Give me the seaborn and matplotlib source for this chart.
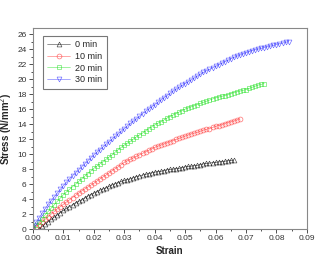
import matplotlib
matplotlib.use("Agg")
import matplotlib.pyplot as plt
import seaborn as sns
import pandas as pd
from matplotlib.ticker import MultipleLocator

# strain grid (step 0.001)
strain = [0.000, 0.001, 0.002, 0.003, 0.004, 0.005, 0.006, 0.007, 0.008, 0.009,
          0.010, 0.011, 0.012, 0.013, 0.014, 0.015, 0.016, 0.017, 0.018, 0.019,
          0.020, 0.021, 0.022, 0.023, 0.024, 0.025, 0.026, 0.027, 0.028, 0.029,
          0.030, 0.031, 0.032, 0.033, 0.034, 0.035, 0.036, 0.037, 0.038, 0.039,
          0.040, 0.041, 0.042, 0.043, 0.044, 0.045, 0.046, 0.047, 0.048, 0.049,
          0.050, 0.051, 0.052, 0.053, 0.054, 0.055, 0.056, 0.057, 0.058, 0.059,
          0.060, 0.061, 0.062, 0.063, 0.064, 0.065, 0.066, 0.067, 0.068, 0.069,
          0.070, 0.071, 0.072, 0.073, 0.074, 0.075, 0.076, 0.077, 0.078, 0.079,
          0.080, 0.081, 0.082, 0.083, 0.084]

labels = ['0 min', '10 min', '20 min', '30 min']

# 0 min starts at strain 0.002
stress_0 = [0.0, 0.35, 0.7, 1.0, 1.3, 1.6, 1.9, 2.2, 2.5, 2.75,
            3.0, 3.25, 3.5, 3.7, 3.9, 4.15, 4.4, 4.6, 4.8, 5.0,
            5.2, 5.35, 5.5, 5.7, 5.9, 6.05, 6.2, 6.35, 6.5, 6.6,
            6.7, 6.85, 7.0, 7.1, 7.2, 7.3, 7.4, 7.5, 7.6, 7.65,
            7.7, 7.8, 7.9, 7.95, 8.0, 8.05, 8.1, 8.2, 8.3, 8.35,
            8.4, 8.45, 8.5, 8.6, 8.7, 8.75, 8.8, 8.85, 8.9, 8.95,
            9.0, 9.05, 9.1, 9.15, 9.2]
stress_10 = [0.0, 0.3, 0.6, 0.95, 1.3, 1.65, 2.0, 2.35, 2.7, 3.0,
             3.3, 3.6, 3.9, 4.2, 4.5, 4.8, 5.1, 5.35, 5.6, 5.85,
             6.1, 6.4, 6.7, 6.95, 7.2, 7.5, 7.8, 8.05, 8.3, 8.6,
             8.9, 9.1, 9.3, 9.5, 9.7, 9.9, 10.1, 10.3, 10.5, 10.7,
             10.9, 11.05, 11.2, 11.35, 11.5, 11.65, 11.8, 11.95, 12.1, 12.25,
             12.4, 12.55, 12.7, 12.8, 12.9, 13.05, 13.2, 13.3, 13.4, 13.55,
             13.7, 13.8, 13.9, 14.05, 14.2, 14.3, 14.4, 14.55, 14.7]
stress_20 = [0.1, 0.5, 0.9, 1.4, 1.9, 2.35, 2.8, 3.25, 3.7, 4.15,
             4.6, 4.95, 5.3, 5.65, 6.0, 6.35, 6.7, 7.05, 7.4, 7.75,
             8.1, 8.4, 8.7, 9.0, 9.3, 9.6, 9.9, 10.25, 10.6, 10.9,
             11.2, 11.45, 11.7, 12.0, 12.3, 12.55, 12.8, 13.1, 13.4, 13.65,
             13.9, 14.1, 14.3, 14.55, 14.8, 15.0, 15.2, 15.4, 15.6, 15.8,
             16.0, 16.15, 16.3, 16.45, 16.6, 16.75, 16.9, 17.05, 17.2, 17.35,
             17.5, 17.6, 17.7, 17.8, 17.9, 18.05, 18.2, 18.3, 18.4, 18.5,
             18.6, 18.75, 18.9, 19.05, 19.2, 19.3, 19.4]
stress_30 = [0.3, 0.9, 1.5, 2.1, 2.7, 3.3, 3.8, 4.3, 4.8, 5.3,
             5.8, 6.25, 6.7, 7.1, 7.5, 7.9, 8.3, 8.7, 9.1, 9.5,
             9.9, 10.25, 10.6, 10.95, 11.3, 11.65, 12.0, 12.35, 12.7, 13.05,
             13.4, 13.75, 14.1, 14.4, 14.7, 15.05, 15.4, 15.7, 16.0, 16.3,
             16.6, 16.9, 17.2, 17.5, 17.8, 18.1, 18.4, 18.65, 18.9, 19.15,
             19.4, 19.65, 19.9, 20.15, 20.4, 20.65, 20.9, 21.1, 21.3, 21.5,
             21.7, 21.9, 22.1, 22.3, 22.5, 22.7, 22.9, 23.05, 23.2, 23.35,
             23.5, 23.65, 23.8, 23.9, 24.0, 24.1, 24.2, 24.3, 24.4, 24.5,
             24.6, 24.7, 24.8, 24.9, 25.0]

series = [
    (labels[0], strain[2:2 + len(stress_0)], stress_0, 'black', '^'),
    (labels[1], strain[:len(stress_10)], stress_10, '#ff3030', 'o'),
    (labels[2], strain[:len(stress_20)], stress_20, '#20e020', 's'),
    (labels[3], strain[:len(stress_30)], stress_30, '#3030ff', 'v'),
]

sns.set_style('white')
plt.rcParams['font.family'] = ['Liberation Sans', 'DejaVu Sans']

fig = plt.figure(figsize=(3.17, 2.6), dpi=100)
ax = fig.add_axes([0.104, 0.119, 0.864, 0.773])

for name, x, y, c, m in series:
    df = pd.DataFrame({'x': x, 'y': y})
    sns.lineplot(data=df, x='x', y='y', ax=ax, color=c, marker=m,
                 markersize=3.5, mfc='none', mec=c, mew=0.45, lw=0.4,
                 alpha=0.75, label=name)

ax.set_xlim(0, 0.09)
ax.set_ylim(0, 26.8)
ax.xaxis.set_major_locator(MultipleLocator(0.01))
ax.xaxis.set_minor_locator(MultipleLocator(0.005))
ax.yaxis.set_major_locator(MultipleLocator(2))
ax.yaxis.set_minor_locator(MultipleLocator(1))
ax.xaxis.set_major_formatter(plt.FormatStrFormatter('%.2f'))
ax.tick_params(which='both', direction='out', bottom=True, left=True,
               colors='#333333', labelsize=6, width=0.6, pad=1.5)
ax.tick_params(which='major', length=3)
ax.tick_params(which='minor', length=1.5)
for sp in ax.spines.values():
    sp.set_color('#888888')
    sp.set_linewidth(0.8)

ax.set_xlabel('Strain', fontsize=7, fontweight='bold', labelpad=3)
ax.set_ylabel('Stress (N/mm$^2$)', fontsize=7, fontweight='bold', labelpad=2)

leg = ax.legend(loc='upper left', bbox_to_anchor=(0.02, 0.985), fontsize=6.5,
                frameon=True, fancybox=False, edgecolor='#555555',
                handlelength=2.5, borderpad=0.5, labelspacing=0.3,
                handletextpad=0.6)
leg.get_frame().set_linewidth(0.8)

fig.savefig('out.png', dpi=100)
